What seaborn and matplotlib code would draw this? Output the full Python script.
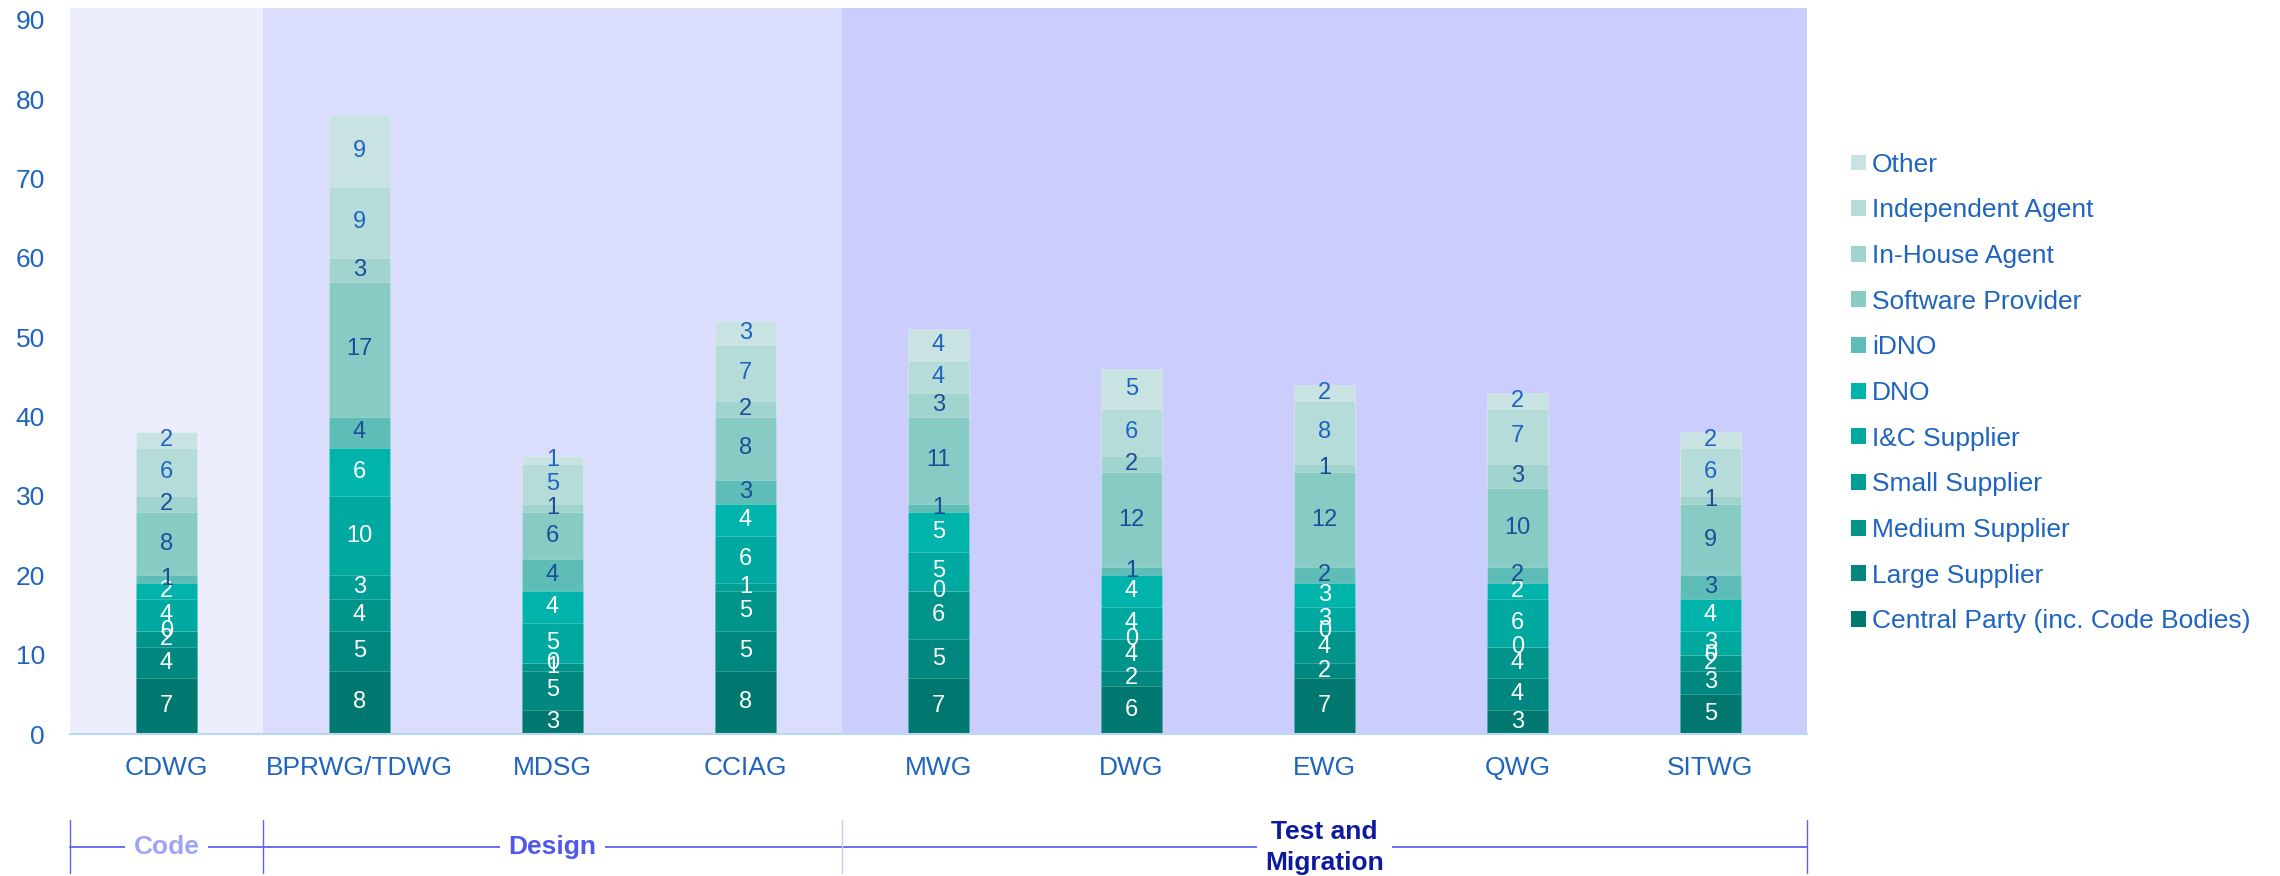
import numpy as np
import pandas as pd
import matplotlib
matplotlib.use("Agg")
import matplotlib.pyplot as plt
import matplotlib.transforms as mtransforms
from matplotlib.patches import Patch
import seaborn as sns

# working groups (x categories)
groups = ["CDWG", "BPRWG/TDWG", "MDSG", "CCIAG", "MWG", "DWG", "EWG", "QWG", "SITWG"]

# series, bottom of the stack first
series = [
    "Central Party (inc. Code Bodies)", "Large Supplier", "Medium Supplier",
    "Small Supplier", "I&C Supplier", "DNO", "iDNO", "Software Provider",
    "In-House Agent", "Independent Agent", "Other",
]

central_party = [7, 8, 3, 8, 7, 6, 7, 3, 5]
large_supplier = [4, 5, 5, 5, 5, 2, 2, 4, 3]
medium_supplier = [2, 4, 1, 5, 6, 4, 4, 4, 2]
small_supplier = [0, 3, 0, 1, 0, 0, 0, 0, 0]
ic_supplier = [4, 10, 5, 6, 5, 4, 3, 6, 3]
dno = [2, 6, 4, 4, 5, 4, 3, 2, 4]
idno = [1, 4, 4, 3, 1, 1, 2, 2, 3]
software_provider = [8, 17, 6, 8, 11, 12, 12, 10, 9]
inhouse_agent = [2, 3, 1, 2, 3, 2, 1, 3, 1]
independent_agent = [6, 9, 5, 7, 4, 6, 8, 7, 6]
other = [2, 9, 1, 3, 4, 5, 2, 2, 2]

colors = ["#00786F", "#00877F", "#00948B", "#009F96", "#00A9A0", "#00B4AB",
          "#5EBEB7", "#88CBC5", "#A2D4CF", "#B5DCD9", "#C8E3E2"]
label_colors = ["white"] * 6 + ["#1B4E98"] * 3 + ["#1F64C2"] * 2

# phase bands: (label, first group index, last group index)
phases = [("Code", 0, 0), ("Design", 1, 3), ("Test and\nMigration", 4, 8)]
band_colors = ["#ECEEFD", "#DADDFC", "#CBCEFC"]
phase_text_colors = ["#9FA5F6", "#5258EE", "#0C1A9E"]

blue = "#1F64BE"

df = pd.DataFrame(
    [central_party, large_supplier, medium_supplier, small_supplier, ic_supplier,
     dno, idno, software_provider, inhouse_agent, independent_agent, other],
    index=series, columns=groups,
).T
cum = df.cumsum(axis=1)

sns.set_theme(style="white")
plt.rcParams["font.family"] = ["Liberation Sans", "DejaVu Sans"]

fig, ax = plt.subplots(figsize=(22.8, 8.76), dpi=100)
fig.subplots_adjust(left=70 / 2280, right=1807 / 2280, top=1 - 8 / 876, bottom=1 - 734 / 876)

# background bands
for (name, a, b), c in zip(phases, band_colors):
    ax.axvspan(a - 0.5, b + 0.5, color=c, zorder=0, lw=0)

# stacked bars: draw cumulative totals from the top layer down
for i in range(len(series) - 1, -1, -1):
    sns.barplot(x=groups, y=cum.iloc[:, i].values, color=colors[i], width=0.32,
                saturation=1, ax=ax, edgecolor=(1, 1, 1, 0.25), linewidth=0.6, zorder=2)

# value labels
for j, g in enumerate(groups):
    for i, s in enumerate(series):
        v = df.loc[g, s]
        y = cum.loc[g, s] - v / 2
        ax.text(j, y, str(v), ha="center", va="center", fontsize=17,
                color=label_colors[i], zorder=5)

ax.set_xlim(-0.5, 8.5)
ax.set_ylim(0, 91.5)
ax.set_yticks(range(0, 91, 10))
ax.set_xlabel("")
ax.set_ylabel("")
ax.tick_params(axis="y", length=0, pad=18, labelsize=19, labelcolor=blue)
ax.tick_params(axis="x", length=0, pad=16, labelsize=19, labelcolor=blue)
for side in ["top", "right", "left"]:
    ax.spines[side].set_visible(False)
ax.spines["bottom"].set_color("#BBD6F2")
ax.spines["bottom"].set_linewidth(1.5)
ax.grid(False)

# phase bracket under the axis
trans = mtransforms.blended_transform_factory(ax.transData, ax.transAxes)
line_y = -0.156
ax.plot([-0.5, 8.5], [line_y, line_y], color="#5C64F0", lw=1.3, transform=trans, clip_on=False)
for xb, c in [(-0.5, "#5C64F0"), (0.5, "#5C64F0"), (3.5, "#C8CBFA"), (8.5, "#5C64F0")]:
    ax.plot([xb, xb], [-0.118, -0.191], color=c, lw=1.0, transform=trans, clip_on=False)
for (name, a, b), c in zip(phases, phase_text_colors):
    ax.text((a + b) / 2, line_y, name, transform=trans, ha="center", va="center",
            fontsize=19, fontweight="bold", color=c, linespacing=1.35,
            family=["Liberation Sans Narrow", "Liberation Sans", "DejaVu Sans"],
            bbox=dict(facecolor="white", edgecolor="none", pad=6), clip_on=False)

# legend (top of stack listed first)
handles = [Patch(facecolor=colors[i], edgecolor="none", label=series[i])
           for i in range(len(series) - 1, -1, -1)]
leg = fig.legend(handles=handles, loc="center left", bbox_to_anchor=(1851 / 2280, 1 - 393 / 876),
                 frameon=False, fontsize=19, handlelength=0.55, handleheight=0.55,
                 handletextpad=0.25, labelspacing=0.82, borderpad=0, borderaxespad=0)
for t in leg.get_texts():
    t.set_color(blue)

fig.savefig("out.png", dpi=100)
